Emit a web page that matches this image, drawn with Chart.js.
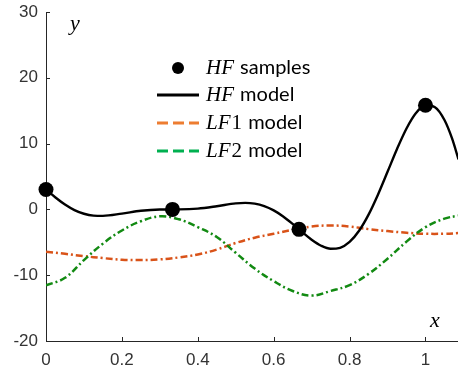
<!DOCTYPE html>
<html>
<head>
<meta charset="utf-8">
<script src="https://cdn.jsdelivr.net/npm/chart.js@4/dist/chart.umd.min.js"></script>
<style>
  html, body { margin: 0; padding: 0; background: #fff; overflow: hidden; }
  canvas { display: block; }
</style>
</head>
<body>
<!-- a few extra pixels on the right absorb the padding Chart.js reserves for the markers -->
<canvas id="mfChart" width="466" height="375"></canvas>
<script>
// axis ticks
const xTicks = [0, 0.2, 0.4, 0.6, 0.8, 1];
const yTicks = [-20, -10, 0, 10, 20, 30];

// high fidelity samples
const sampleX = [0, 0.3333, 0.6667, 1];
const sampleY = [3.03, 0, -3.03, 15.83];

// high fidelity model curve
const hfX = [0, 0.025, 0.05, 0.075, 0.1, 0.125, 0.15, 0.2, 0.25, 0.3, 0.35, 0.4, 0.45, 0.5, 0.525, 0.55, 0.575, 0.6, 0.625, 0.65, 0.675, 0.7, 0.725, 0.75, 0.775, 0.8, 0.825, 0.85, 0.875, 0.9, 0.925, 0.95, 0.975, 1.0, 1.025, 1.05, 1.07, 1.087];
const hfY = [3.03, 1.81, 0.74, -0.10, -0.66, -0.94, -0.98, -0.64, -0.21, -0.02, 0.00, 0.12, 0.48, 0.91, 0.99, 0.87, 0.50, -0.15, -1.07, -2.21, -3.44, -4.61, -5.52, -5.99, -5.84, -4.95, -3.25, -0.80, 2.27, 5.71, 9.19, 12.30, 14.65, 15.83, 15.53, 13.58, 10.78, 7.60];

// low fidelity models
const lfX = [0, 0.05, 0.1, 0.15, 0.2, 0.25, 0.3, 0.35, 0.4, 0.45, 0.5, 0.55, 0.6, 0.65, 0.7, 0.75, 0.8, 0.85, 0.9, 0.95, 1.0, 1.05, 1.087];
const lf1Y = [-6.45, -6.75, -7.1, -7.4, -7.65, -7.7, -7.6, -7.3, -6.85, -6.1, -5.1, -4.3, -3.7, -3.1, -2.6, -2.45, -2.6, -3.0, -3.3, -3.55, -3.7, -3.7, -3.6];
const lf2Y = [-11.55, -10.4, -7.7, -5.2, -3.2, -1.8, -1.05, -1.5, -2.7, -4.2, -6.6, -9.0, -10.9, -12.4, -13.1, -12.4, -11.5, -9.8, -7.5, -4.9, -2.7, -1.4, -0.95];

const axisColor = '#262626';
const lf1Color = '#d95319';
const lf2Color = '#128a12';

function pts(xs, ys) {
    return xs.map((x, i) => ({ x: x, y: ys[i] }));
}

const mathFont = 'italic 21px "Liberation Serif"';
const numFont = '21px "Liberation Serif"';
const textFont = '20px Lato';

// legend rows: sample glyph + label pieces
const legendRows = [
    { kind: 'dot', y: 68, parts: [['HF', mathFont], [' samples', textFont]] },
    { kind: 'solid', y: 95, color: '#000', parts: [['HF', mathFont], [' model', textFont]] },
    { kind: 'dash', y: 123, color: '#ed7d31', parts: [['LF', mathFont], ['1', numFont], [' model', textFont]] },
    { kind: 'dash', y: 151, color: '#00b050', parts: [['LF', mathFont], ['2', numFont], [' model', textFont]] }
];

// inward tick marks, axis letters and the legend box
const decorations = {
    id: 'decorations',
    afterDraw(chart) {
        const ctx = chart.ctx;
        const xs = chart.scales.x;
        const ys = chart.scales.y;
        const area = chart.chartArea;

        ctx.save();
        ctx.strokeStyle = axisColor;
        ctx.lineWidth = 1;
        ctx.beginPath();
        xTicks.forEach(v => {
            const px = Math.round(xs.getPixelForValue(v)) + 0.5;
            ctx.moveTo(px, area.bottom);
            ctx.lineTo(px, area.bottom - 4);
        });
        yTicks.forEach(v => {
            const py = Math.round(ys.getPixelForValue(v)) + 0.5;
            ctx.moveTo(area.left, py);
            ctx.lineTo(area.left + 4, py);
        });
        ctx.stroke();

        ctx.fillStyle = '#000';
        ctx.font = 'italic 22px "Liberation Serif"';
        ctx.textBaseline = 'alphabetic';
        ctx.fillText('y', 70, 30);
        ctx.fillText('x', 430, 327);

        legendRows.forEach(r => {
            if (r.kind === 'dot') {
                ctx.fillStyle = '#000';
                ctx.beginPath();
                ctx.arc(178, r.y, 6, 0, Math.PI * 2);
                ctx.fill();
            } else {
                ctx.beginPath();
                ctx.lineWidth = 3.2;
                ctx.strokeStyle = r.color;
                ctx.setLineDash(r.kind === 'solid' ? [] : [11, 5]);
                ctx.moveTo(157, r.y);
                ctx.lineTo(199, r.y);
                ctx.stroke();
                ctx.setLineDash([]);
            }
            let tx = 206;
            ctx.fillStyle = '#000';
            r.parts.forEach(([t, f]) => {
                ctx.font = f;
                ctx.fillText(t, tx, r.y + 6);
                tx += ctx.measureText(t).width + 1;
            });
        });
        ctx.restore();
    }
};

const ctx = document.getElementById('mfChart').getContext('2d');
new Chart(ctx, {
    type: 'line',
    data: {
        datasets: [
            {
                label: 'HF samples',
                data: pts(sampleX, sampleY),
                showLine: false,
                pointRadius: 7.5,
                pointBackgroundColor: '#000',
                pointBorderWidth: 0,
                clip: false
            },
            {
                label: 'HF model',
                data: pts(hfX, hfY),
                borderColor: '#000',
                borderWidth: 2.4,
                pointRadius: 0,
                cubicInterpolationMode: 'monotone'
            },
            {
                label: 'LF2 model',
                data: pts(lfX, lf2Y),
                borderColor: lf2Color,
                borderWidth: 2.5,
                borderDash: [7, 3, 2, 3],
                pointRadius: 0,
                tension: 0.4
            },
            {
                label: 'LF1 model',
                data: pts(lfX, lf1Y),
                borderColor: lf1Color,
                borderWidth: 2.5,
                borderDash: [7, 3, 2, 3],
                pointRadius: 0,
                tension: 0.4
            }
        ]
    },
    options: {
        responsive: false,
        animation: false,
        layout: { padding: { top: 12, right: 0, bottom: 0, left: 0 } },
        plugins: {
            legend: { display: false },
            tooltip: { enabled: false }
        },
        scales: {
            x: {
                type: 'linear',
                min: 0,
                max: 1.087,
                afterBuildTicks: scale => { scale.ticks = xTicks.map(v => ({ value: v })); },
                afterFit: scale => {
                    scale.height = 34;
                    scale.paddingLeft = 0;
                    scale.paddingRight = 0;
                },
                grid: { drawOnChartArea: false, drawTicks: false },
                border: { display: true, color: axisColor, width: 1 },
                ticks: {
                    padding: 9,
                    color: '#333',
                    font: { family: '"Liberation Sans"', size: 17 },
                    callback: v => String(v)
                }
            },
            y: {
                min: -20,
                max: 30,
                afterBuildTicks: scale => { scale.ticks = yTicks.map(v => ({ value: v })); },
                afterFit: scale => {
                    scale.width = 46;
                    scale.paddingTop = 0;
                    scale.paddingBottom = 0;
                },
                grid: { drawOnChartArea: false, drawTicks: false },
                border: { display: true, color: axisColor, width: 1 },
                ticks: {
                    padding: 8,
                    color: '#333',
                    font: { family: '"Liberation Sans"', size: 17 }
                }
            }
        }
    },
    plugins: [decorations]
});
</script>
</body>
</html>
